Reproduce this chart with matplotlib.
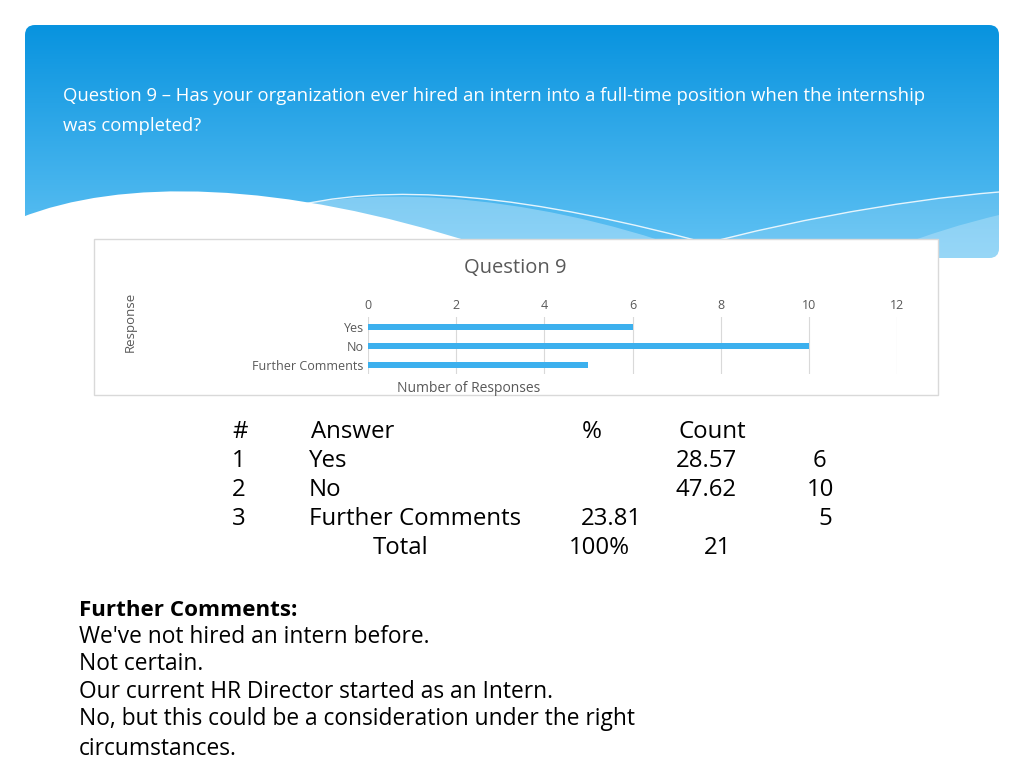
import numpy as np
import matplotlib
matplotlib.use("Agg")
import matplotlib.pyplot as plt
from matplotlib.patches import FancyBboxPatch, Rectangle, PathPatch
from matplotlib.path import Path

# ---- data ----
categories = ["Yes", "No", "Further Comments"]
counts = [6, 10, 5]
percents = ["28.57", "47.62", "23.81"]
total_pct = "100%"
total_count = "21"
x_ticks = [0, 2, 4, 6, 8, 10, 12]
title_lines = ["Question 9 \u2013 Has your organization ever hired an intern into a full-time position when the internship",
               "was completed?"]
comments = ["We've not hired an intern before.",
            "Not certain.",
            "Our current HR Director started as an Intern.",
            "No, but this could be a consideration under the right",
            "circumstances."]

plt.rcParams['font.family'] = ['Open Sans', 'DejaVu Sans']

fig = plt.figure(figsize=(10.24, 7.68), dpi=100)
bg = fig.add_axes([0, 0, 1, 1])
bg.set_xlim(0, 1024)
bg.set_ylim(768, 0)
bg.axis('off')

# header gradient
grad = np.linspace(0, 1, 256)[:, None]
top = np.array([0x08, 0x93, 0xdf]) / 255
bot = np.array([0x62, 0xc3, 0xf4]) / 255
img = top[None, None, :] * (1 - grad[:, :, None]) + bot[None, None, :] * grad[:, :, None]
im = bg.imshow(img, extent=[25, 999, 258, 25], aspect='auto', zorder=1)
clip = FancyBboxPatch((25, 25), 974, 233, boxstyle="round,pad=0,rounding_size=10",
                      transform=bg.transData, facecolor='none', edgecolor='none')
bg.add_patch(clip)
im.set_clip_path(clip)

# light waves
light = Path([(270, 212), (380, 180), (560, 198), (720, 262), (270, 262), (270, 212)],
             [Path.MOVETO, Path.CURVE4, Path.CURVE4, Path.CURVE4, Path.LINETO, Path.CLOSEPOLY])
p = PathPatch(light, facecolor='white', alpha=0.3, edgecolor='none', zorder=2)
bg.add_patch(p)
p.set_clip_path(clip)
light2 = Path([(640, 262), (760, 225), (900, 200), (999, 192), (999, 262), (640, 262)],
              [Path.MOVETO, Path.CURVE4, Path.CURVE4, Path.CURVE4, Path.LINETO, Path.CLOSEPOLY])
p2 = PathPatch(light2, facecolor='white', alpha=0.12, edgecolor='none', zorder=2)
bg.add_patch(p2)
p2.set_clip_path(clip)
light3 = Path([(860, 262), (920, 235), (970, 222), (999, 215), (999, 262), (860, 262)],
              [Path.MOVETO, Path.CURVE4, Path.CURVE4, Path.CURVE4, Path.LINETO, Path.CLOSEPOLY])
p3 = PathPatch(light3, facecolor='white', alpha=0.25, edgecolor='none', zorder=2)
bg.add_patch(p3)
p3.set_clip_path(clip)
for verts in ([(300, 205), (410, 180), (560, 200), (760, 258)],
              [(640, 262), (760, 225), (900, 200), (999, 192)]):
    lp = PathPatch(Path(verts, [Path.MOVETO, Path.CURVE4, Path.CURVE4, Path.CURVE4]),
                   facecolor='none', edgecolor='white', lw=1.0, alpha=0.85, zorder=2)
    bg.add_patch(lp)
    lp.set_clip_path(clip)

# white wave
wave = Path([(20, 218), (120, 178), (280, 180), (480, 245), (480, 300), (20, 300), (20, 218)],
            [Path.MOVETO, Path.CURVE4, Path.CURVE4, Path.CURVE4, Path.LINETO, Path.LINETO, Path.CLOSEPOLY])
bg.add_patch(PathPatch(wave, facecolor='white', edgecolor='none', zorder=3))

for y, line in zip([96, 126], title_lines):
    bg.text(63, y, line, color='white', fontsize=13.3, va='center', ha='left', zorder=5)

# chart box
bg.add_patch(Rectangle((94, 239), 844, 156, facecolor='white', edgecolor='#d9d9d9', lw=1, zorder=4))
bg.text(515, 268, "Question 9", color='#595959', fontsize=14.5, ha='center', va='center', zorder=5)
bg.text(130, 322, "Response", color='#595959', fontsize=9.5, rotation=90, ha='center', va='center', zorder=5)
bg.text(469, 389, "Number of Responses", color='#595959', fontsize=10, ha='center', va='center', zorder=5)

# bar chart
W, H = 1024, 768
x0, x1 = 368, 897
yt, yb = 317.5, 374.5
ax = fig.add_axes([x0 / W, 1 - yb / H, (x1 - x0) / W, (yb - yt) / H])
ax.set_zorder(6)
ax.patch.set_alpha(0)
ypos = np.arange(len(categories))
ax.barh(ypos, counts, height=0.32, color='#3cb0ee', zorder=3)
ax.set_xlim(0, 12)
ax.set_ylim(2.5, -0.5)
ax.set_xticks(x_ticks)
ax.set_yticks(ypos)
ax.set_yticklabels(categories)
ax.xaxis.tick_top()
ax.tick_params(axis='both', length=0, labelsize=9, labelcolor='#595959', pad=3)
ax.tick_params(axis='x', pad=4)
ax.grid(axis='x', color='#d9d9d9', lw=0.8, zorder=0)
for s in ax.spines.values():
    s.set_visible(False)

# table
fs = 17.3
rows_y = [432, 461, 490, 519, 548]
bg.text(232, rows_y[0], "#", fontsize=fs, va='center')
bg.text(311, rows_y[0], "Answer", fontsize=fs, va='center')
bg.text(582, rows_y[0], "%", fontsize=fs, va='center')
bg.text(679, rows_y[0], "Count", fontsize=fs, va='center')
pct_x = [676, 676, 581]
cnt_right = [826, 834, 832]
for i, cat in enumerate(categories):
    y = rows_y[i + 1]
    bg.text(232, y, str(i + 1), fontsize=fs, va='center')
    bg.text(309, y, cat, fontsize=fs, va='center')
    bg.text(pct_x[i], y, percents[i], fontsize=fs, va='center')
    bg.text(cnt_right[i], y, str(counts[i]), fontsize=fs, va='center', ha='right')
bg.text(373, rows_y[4], "Total", fontsize=fs, va='center')
bg.text(569, rows_y[4], total_pct, fontsize=fs, va='center')
bg.text(704, rows_y[4], total_count, fontsize=fs, va='center')

# comments
cfs = 16.4
bg.text(79, 610, "Further Comments:", fontsize=16.1, fontweight='bold', va='center')
cy = [637, 664, 692, 719, 749]
for y, c in zip(cy, comments):
    bg.text(79, y, c, fontsize=cfs, va='center')

fig.savefig("out.png", dpi=100)
